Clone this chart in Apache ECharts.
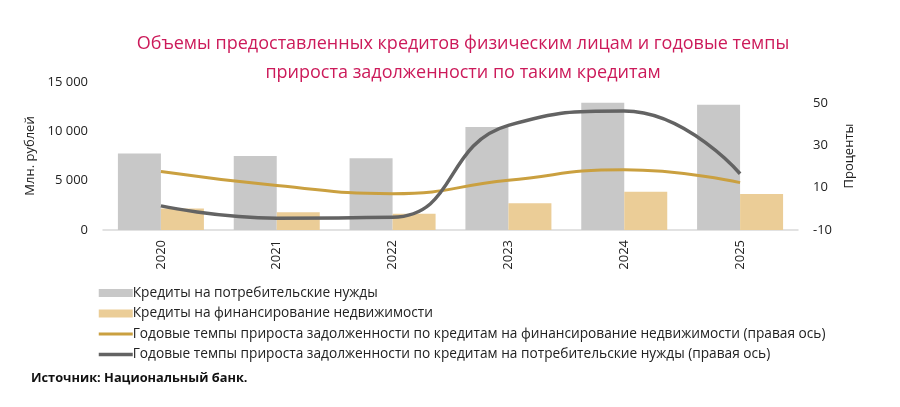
<!DOCTYPE html>
<html>
<head>
<meta charset="utf-8">
<script src="https://cdn.jsdelivr.net/npm/echarts@6/dist/echarts.min.js"></script>
<style>
  html, body { margin: 0; padding: 0; background: #fff; }
  #chart { width: 900px; height: 407px; }
</style>
</head>
<body>
<div id="chart"></div>
<script>
// data
const years = ['2020', '2021', '2022', '2023', '2024', '2025'];
const consumerLoans = [7750, 7500, 7270, 10430, 12900, 12700];
const realtyLoans = [2190, 1790, 1650, 2700, 3870, 3640];
const realtyGrowth = [17.7, 11.1, 7.2, 13.5, 18.5, 12.4];
const consumerGrowth = [1.4, -4.4, -4.0, 39.5, 46.3, 16.6];

const names = [
  'Кредиты на потребительские нужды',
  'Кредиты на финансирование недвижимости',
  'Годовые темпы прироста задолженности по кредитам на финансирование недвижимости (правая ось)',
  'Годовые темпы прироста задолженности по кредитам на потребительские нужды (правая ось)'
];

const FONT = '"Open Sans", "Noto Sans", sans-serif';

const thousands = v => String(v).replace(/\B(?=(\d{3})+(?!\d))/g, ' ');

const chart = echarts.init(document.getElementById('chart'));

chart.setOption({
  animation: false,
  textStyle: { fontFamily: FONT },
  title: [
    {
      text: 'Объемы предоставленных кредитов физическим лицам и годовые темпы\nприроста задолженности по таким кредитам',
      left: 458,
      top: 24,
      textAlign: 'center',
      textStyle: {
        color: '#cc1a5a',
        fontFamily: FONT,
        fontWeight: 'normal',
        fontSize: 18,
        lineHeight: 29
      }
    },
    {
      text: 'Источник: Национальный банк.',
      left: 26,
      top: 367,
      textStyle: {
        color: '#111',
        fontFamily: FONT,
        fontWeight: 'bold',
        fontSize: 12.8
      }
    }
  ],
  legend: {
    orient: 'vertical',
    left: 92,
    top: 281,
    itemWidth: 34,
    itemHeight: 8,
    itemGap: 6.5,
    textStyle: { color: '#222', fontSize: 13.7, fontFamily: FONT, padding: [0, 0, 0, -5] },
    data: [
      { name: names[0], icon: 'rect' },
      { name: names[1], icon: 'rect' },
      { name: names[2], itemStyle: { opacity: 0 }, lineStyle: { width: 3 } },
      { name: names[3], itemStyle: { opacity: 0 }, lineStyle: { width: 3.5 } }
    ]
  },
  grid: { left: 103, right: 102, top: 82, bottom: 177 },
  xAxis: {
    type: 'category',
    data: years,
    axisLine: { lineStyle: { color: '#d9d9d9', width: 1.5 } },
    axisTick: { show: false },
    axisLabel: { rotate: 90, color: '#222', fontSize: 13, margin: 10 }
  },
  yAxis: [
    {
      type: 'value',
      min: 0,
      max: 15000,
      interval: 5000,
      name: 'Млн. рублей',
      nameLocation: 'middle',
      nameGap: 64,
      nameTextStyle: { color: '#222', fontSize: 13 },
      axisLine: { show: false },
      axisTick: { show: false },
      splitLine: { show: false },
      axisLabel: { color: '#222', fontSize: 13, margin: 15, formatter: thousands }
    },
    {
      type: 'value',
      min: -10,
      max: 60,
      interval: 20,
      name: 'Проценты',
      nameLocation: 'middle',
      nameGap: 42,
      nameRotate: 90,
      nameTextStyle: { color: '#222', fontSize: 13 },
      axisLine: { show: false },
      axisTick: { show: false },
      splitLine: { show: false },
      axisLabel: {
        color: '#222',
        fontSize: 13,
        margin: 15,
        formatter: v => (v === 60 ? '' : String(v))
      }
    }
  ],
  series: [
    {
      name: names[0],
      type: 'bar',
      data: consumerLoans,
      barWidth: 43,
      barGap: '0%',
      itemStyle: { color: '#c8c8c8' }
    },
    {
      name: names[1],
      type: 'bar',
      data: realtyLoans,
      barWidth: 43,
      itemStyle: { color: '#ebcd97' }
    },
    {
      name: names[2],
      type: 'line',
      yAxisIndex: 1,
      data: realtyGrowth,
      smooth: 0.5,
      symbol: 'none',
      lineStyle: { color: '#caa040', width: 3 },
      itemStyle: { color: '#caa040' }
    },
    {
      name: names[3],
      type: 'line',
      yAxisIndex: 1,
      data: consumerGrowth,
      smooth: 0.5,
      symbol: 'none',
      lineStyle: { color: '#636363', width: 3.5 },
      itemStyle: { color: '#636363' }
    }
  ]
});
</script>
</body>
</html>
